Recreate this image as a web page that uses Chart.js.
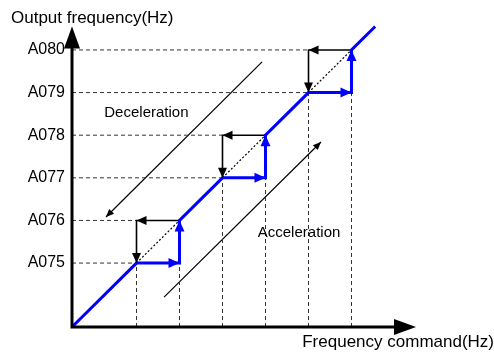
<!DOCTYPE html>
<html><head><meta charset="utf-8">
<script src="https://cdn.jsdelivr.net/npm/chart.js@4/dist/chart.umd.min.js"></script>
<style>html,body{margin:0;padding:0;background:#fff;overflow:hidden}canvas{display:block}</style>
</head><body>
<canvas id="c" width="494" height="354"></canvas>
<script>
// ---- data ----
const tickLabels = ['A075', 'A076', 'A077', 'A078', 'A079', 'A080'];
const levels = [1.5, 2.5, 3.5, 4.5, 5.5, 6.5];
const bandLow = [1.5, 3.5, 5.5];
const bandHigh = [2.5, 4.5, 6.5];
const accelX = [0, 1.5, 2.5, 2.5, 3.5, 4.5, 4.5, 5.5, 6.5, 6.5, 7.05];
const accelY = [0, 1.5, 1.5, 2.5, 3.5, 3.5, 4.5, 5.5, 5.5, 6.5, 7.05];
const decelArrowX = [4.42, 0.79];
const decelArrowY = [6.22, 2.58];
const accelArrowX = [2.14, 5.79];
const accelArrowY = [0.70, 4.34];
const textLabels = ['Deceleration', 'Acceleration'];
const textX = [1.73, 5.28];
const textY = [4.92, 2.10];
const xAxisEnd = 8;
const yTitle = 'Output frequency(Hz)';
const xTitle = 'Frequency command(Hz)';

// ---- build ----
const FONT = '"Liberation Sans", Arial, Helvetica, sans-serif';
const pts = (xs, ys) => xs.map((x, i) => ({x: x, y: ys[i]}));
const base = {showLine: true, pointRadius: 0, pointHoverRadius: 0, fill: false, tension: 0, clip: false,
  borderCapStyle: 'butt', borderJoinStyle: 'miter'};
const dashStyle = Object.assign({}, base, {borderColor: '#333', borderWidth: 1, borderDash: [4, 3]});

const datasets = [];
datasets.push(Object.assign({}, base, {data: pts(accelX, accelY), borderColor: '#0000ff', borderWidth: 3,
  arrows: 'hv', arrowLen: 11, arrowHalf: 5, arrowColor: '#0000ff'}));
bandLow.forEach((lo, i) => {
  const hi = bandHigh[i];
  datasets.push(Object.assign({}, base, {data: pts([hi, lo, lo], [hi, hi, lo]), borderColor: '#000', borderWidth: 1.6,
    arrows: 'all', arrowLen: 10, arrowHalf: 4.5, arrowColor: '#000'}));
  datasets.push(Object.assign({}, base, {data: pts([lo, hi], [lo, hi]), borderColor: '#000', borderWidth: 1.2, borderDash: [2, 2]}));
  datasets.push(Object.assign({}, dashStyle, {data: pts([0, lo], [lo, lo])}));
  datasets.push(Object.assign({}, dashStyle, {data: pts([0, lo], [hi, hi])}));
  datasets.push(Object.assign({}, dashStyle, {data: pts([lo, lo], [0, lo])}));
  datasets.push(Object.assign({}, dashStyle, {data: pts([hi, hi], [0, lo])}));
});
datasets.push(Object.assign({}, base, {data: pts(decelArrowX, decelArrowY), borderColor: '#000', borderWidth: 1.2,
  arrows: 'end', arrowLen: 8, arrowHalf: 3.5, arrowColor: '#000'}));
datasets.push(Object.assign({}, base, {data: pts(accelArrowX, accelArrowY), borderColor: '#000', borderWidth: 1.2,
  arrows: 'end', arrowLen: 8, arrowHalf: 3.5, arrowColor: '#000'}));

function arrowHead(ctx, x0, y0, x1, y1, len, half, color) {
  const a = Math.atan2(y1 - y0, x1 - x0);
  const bx = x1 - len * Math.cos(a), by = y1 - len * Math.sin(a);
  const nx = -Math.sin(a) * half, ny = Math.cos(a) * half;
  ctx.save();
  ctx.fillStyle = color;
  ctx.beginPath();
  ctx.moveTo(x1, y1);
  ctx.lineTo(bx + nx, by + ny);
  ctx.lineTo(bx - nx, by - ny);
  ctx.closePath();
  ctx.fill();
  ctx.restore();
}

const decor = {
  id: 'decor',
  afterDatasetsDraw(chart) {
    const ctx = chart.ctx;
    const xs = chart.scales.x, ys = chart.scales.y;
    // axes
    const ox = xs.getPixelForValue(0), oy = ys.getPixelForValue(0);
    const xt = xs.getPixelForValue(xAxisEnd), yt = ys.getPixelForValue(ys.max);
    const AL = 22, AH = 8;
    ctx.save();
    ctx.strokeStyle = '#000';
    ctx.lineWidth = 3;
    ctx.lineJoin = 'miter';
    ctx.beginPath();
    ctx.moveTo(ox, yt + AL - 1);
    ctx.lineTo(ox, oy);
    ctx.lineTo(xt - AL + 1, oy);
    ctx.stroke();
    ctx.restore();
    arrowHead(ctx, ox, oy, ox, yt, AL, AH, '#000');
    arrowHead(ctx, ox, oy, xt, oy, AL, AH, '#000');
    // arrowheads on data lines
    chart.data.datasets.forEach((ds, i) => {
      if (!ds.arrows) return;
      const meta = chart.getDatasetMeta(i);
      const p = meta.data;
      for (let j = 1; j < p.length; j++) {
        if (ds.arrows === 'end' && j !== p.length - 1) continue;
        if (ds.arrows === 'hv') {
          const d0 = ds.data[j - 1], d1 = ds.data[j];
          if (d0.x !== d1.x && d0.y !== d1.y) continue;
        }
        arrowHead(ctx, p[j - 1].x, p[j - 1].y, p[j].x, p[j].y, ds.arrowLen, ds.arrowHalf, ds.arrowColor);
      }
    });
    // text labels
    ctx.save();
    ctx.font = '15px ' + FONT;
    ctx.fillStyle = '#000';
    ctx.textAlign = 'center';
    ctx.textBaseline = 'alphabetic';
    textLabels.forEach((t, i) => {
      ctx.fillText(t, xs.getPixelForValue(textX[i]), ys.getPixelForValue(textY[i]));
    });
    ctx.restore();
  }
};

new Chart(document.getElementById('c'), {
  type: 'scatter',
  data: {datasets: datasets},
  plugins: [decor],
  options: {
    responsive: false,
    animation: false,
    devicePixelRatio: 1,
    layout: {padding: {left: 11, right: 0, top: 0, bottom: 0}},
    plugins: {
      legend: {display: false},
      tooltip: {enabled: false},
      title: {display: true, text: yTitle, align: 'start', color: '#000',
        font: {family: FONT, size: 17, weight: 'normal', lineHeight: 1}, padding: {top: 9.5, bottom: 0}}
    },
    scales: {
      x: {
        type: 'linear', min: 0, max: 422 / 43,
        grid: {display: false}, border: {display: false},
        ticks: {display: false},
        title: {display: true, text: xTitle, align: 'end', color: '#000',
          font: {family: FONT, size: 17, lineHeight: 1}, padding: {top: 0, bottom: 3}},
        afterFit(s) { s.height = 27; }
      },
      y: {
        type: 'linear', min: 0, max: 7.05,
        grid: {display: false, drawTicks: false}, border: {display: false},
        ticks: {padding: 7, color: '#000', font: {family: FONT, size: 16},
          callback: (v) => { const k = levels.indexOf(v); return k >= 0 ? tickLabels[k] : ''; }},
        afterBuildTicks(s) { s.ticks = levels.map(v => ({value: v})); },
        afterFit(s) { s.width = 61; }
      }
    }
  }
});
</script>
</body></html>
